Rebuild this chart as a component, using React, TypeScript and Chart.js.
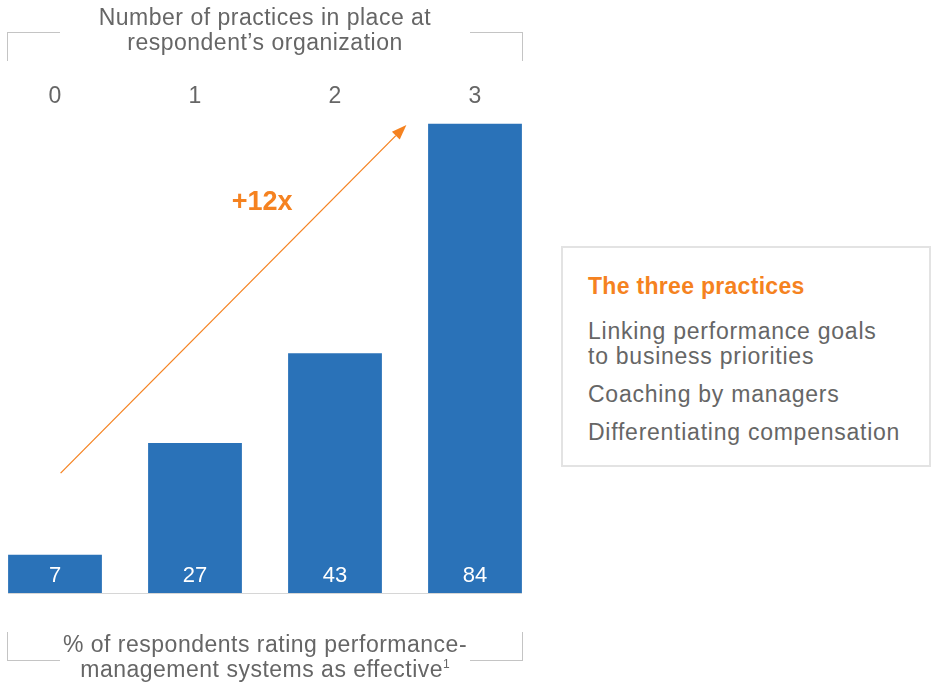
import React, { useEffect, useRef } from 'react';
import { Chart, registerables } from 'chart.js';

Chart.register(...registerables);

const FONT = '"Liberation Sans", Arial, Helvetica, sans-serif';
const BAR_COLOR = '#2a72b8';
const ORANGE = '#f58220';
const GRAY = '#666666';

const categories = ['0', '1', '2', '3'];
const values = [7, 27, 43, 84];
const arrowFrom = [0.04, 21.6];
const arrowTo = [2.51, 83.8];
const arrowLabel = '+12x';
const arrowLabelAt = [1.48, 70.0];
const headerLines = ['Number of practices in place at', 'respondent\u2019s organization'];
const footerLines = ['% of respondents rating performance-', 'management systems as effective'];
const footnoteMark = '1';
const legendTitle = 'The three practices';
const legendItems = [
  ['Linking performance goals', 'to business priorities'],
  ['Coaching by managers'],
  ['Differentiating compensation'],
];

const X_PAD = 0.3357;
const Y_MAX = 85.4;

const overlayPlugin = {
  id: 'overlay',
  afterDatasetsDraw(chart: any) {
    const { ctx, chartArea, scales } = chart;
    const x = scales.x;
    const y = scales.y;
    ctx.save();
    // baseline
    ctx.strokeStyle = '#d6d6d6';
    ctx.lineWidth = 1;
    ctx.beginPath();
    ctx.moveTo(chartArea.left, chartArea.bottom - 0.5);
    ctx.lineTo(chartArea.right, chartArea.bottom - 0.5);
    ctx.stroke();
    // value labels
    const meta = chart.getDatasetMeta(0);
    ctx.fillStyle = '#ffffff';
    ctx.font = `22px ${FONT}`;
    ctx.textAlign = 'center';
    ctx.textBaseline = 'middle';
    meta.data.forEach((el: any, i: number) => {
      ctx.fillText(String(values[i]), el.x, el.base - 18.5);
    });
    // arrow
    const x0 = x.getPixelForValue(arrowFrom[0]);
    const y0 = y.getPixelForValue(arrowFrom[1]);
    const x1 = x.getPixelForValue(arrowTo[0]);
    const y1 = y.getPixelForValue(arrowTo[1]);
    const ang = Math.atan2(y1 - y0, x1 - x0);
    const headLen = 15;
    const headHalf = 5.5;
    const bx = x1 - headLen * Math.cos(ang);
    const by = y1 - headLen * Math.sin(ang);
    ctx.strokeStyle = ORANGE;
    ctx.fillStyle = ORANGE;
    ctx.lineWidth = 1.3;
    ctx.beginPath();
    ctx.moveTo(x0, y0);
    ctx.lineTo(bx, by);
    ctx.stroke();
    ctx.beginPath();
    ctx.moveTo(x1, y1);
    ctx.lineTo(bx + headHalf * Math.sin(ang), by - headHalf * Math.cos(ang));
    ctx.lineTo(bx - headHalf * Math.sin(ang), by + headHalf * Math.cos(ang));
    ctx.closePath();
    ctx.fill();
    // arrow label
    ctx.font = `bold 27px ${FONT}`;
    ctx.fillStyle = ORANGE;
    ctx.textAlign = 'center';
    ctx.textBaseline = 'middle';
    ctx.fillText(arrowLabel, x.getPixelForValue(arrowLabelAt[0]), y.getPixelForValue(arrowLabelAt[1]));
    ctx.restore();
  },
};

const textStyle: React.CSSProperties = {
  position: 'absolute',
  fontFamily: FONT,
  fontSize: 23,
  lineHeight: '25px',
  letterSpacing: '0.5px',
  color: GRAY,
  whiteSpace: 'nowrap',
  margin: 0,
};

function Bracket({ top, flip }: { top: number; flip: boolean }) {
  const color = '#c4c4c4';
  const h = 29;
  const common: React.CSSProperties = { position: 'absolute', boxSizing: 'border-box', height: h, width: 53 };
  return (
    <>
      <div
        style={{
          ...common,
          left: 7,
          top,
          borderLeft: `1px solid ${color}`,
          [flip ? 'borderBottom' : 'borderTop']: `1px solid ${color}`,
        } as React.CSSProperties}
      />
      <div
        style={{
          ...common,
          left: 470,
          top,
          width: 53,
          borderRight: `1px solid ${color}`,
          [flip ? 'borderBottom' : 'borderTop']: `1px solid ${color}`,
        } as React.CSSProperties}
      />
    </>
  );
}

export default function App() {
  const canvasRef = useRef<HTMLCanvasElement | null>(null);

  useEffect(() => {
    const canvas = canvasRef.current;
    if (!canvas) return;
    const chart = new Chart(canvas, {
      type: 'bar',
      data: {
        datasets: [
          {
            data: values.map((v, i) => ({ x: i, y: v })),
            backgroundColor: BAR_COLOR,
            borderWidth: 0,
            barPercentage: 0.67,
            categoryPercentage: 1,
          },
        ],
      },
      options: {
        responsive: false,
        maintainAspectRatio: false,
        animation: false,
        layout: { padding: { left: 8, right: 8, top: 82, bottom: 90 } },
        plugins: { legend: { display: false }, tooltip: { enabled: false } },
        scales: {
          x: {
            type: 'linear',
            position: 'top',
            offset: false,
            min: -X_PAD,
            max: categories.length - 1 + X_PAD,
            grid: { display: false, drawTicks: false, offset: false },
            border: { display: false },
            afterBuildTicks: (scale: any) => {
              scale.ticks = categories.map((_, i) => ({ value: i }));
            },
            afterFit: (scale: any) => {
              scale.height = 34;
            },
            ticks: {
              autoSkip: false,
              maxRotation: 0,
              padding: 6,
              color: GRAY,
              font: { family: FONT, size: 23 },
              callback: (v: any) => categories[v as number] ?? '',
            },
          },
          y: { display: false, min: 0, max: Y_MAX },
        },
      } as any,
      plugins: [overlayPlugin],
    });
    return () => chart.destroy();
  }, []);

  const lineTop = (baseline: number) => baseline - 20.5;

  return (
    <div style={{ position: 'absolute', left: 0, top: 0, width: 931, height: 684, background: '#fff', overflow: 'hidden' }}>
      <canvas ref={canvasRef} width={530} height={684} style={{ position: 'absolute', left: 0, top: 0, width: 530, height: 684 }} />
      <Bracket top={32} flip={false} />
      <Bracket top={632} flip={true} />
      {headerLines.map((t, i) => (
        <div key={'h' + i} style={{ ...textStyle, left: 8, width: 514, textAlign: 'center', top: lineTop(25.5 + i * 25) }}>
          {t}
        </div>
      ))}
      {footerLines.map((t, i) => (
        <div key={'f' + i} style={{ ...textStyle, left: 8, width: 514, textAlign: 'center', top: lineTop(652 + i * 25) }}>
          {t}
          {i === footerLines.length - 1 ? (
            <span style={{ fontSize: 12, position: 'relative', top: -9, letterSpacing: 0 }}>{footnoteMark}</span>
          ) : null}
        </div>
      ))}
      <div
        style={{
          position: 'absolute',
          left: 561,
          top: 246,
          width: 370,
          height: 221,
          boxSizing: 'border-box',
          border: '2px solid #e3e3e3',
        }}
      />
      <div style={{ ...textStyle, left: 588, top: lineTop(294.5), color: ORANGE, fontWeight: 'bold', letterSpacing: '0.3px' }}>
        {legendTitle}
      </div>
      {(() => {
        const out: React.ReactNode[] = [];
        let base = 339.5;
        legendItems.forEach((item, i) => {
          item.forEach((line, j) => {
            out.push(
              <div key={`l${i}-${j}`} style={{ ...textStyle, left: 588, top: lineTop(base), letterSpacing: '0.75px' }}>
                {line}
              </div>
            );
            if (j < item.length - 1) base += 25;
          });
          base += 37.8;
        });
        return out;
      })()}
    </div>
  );
}
